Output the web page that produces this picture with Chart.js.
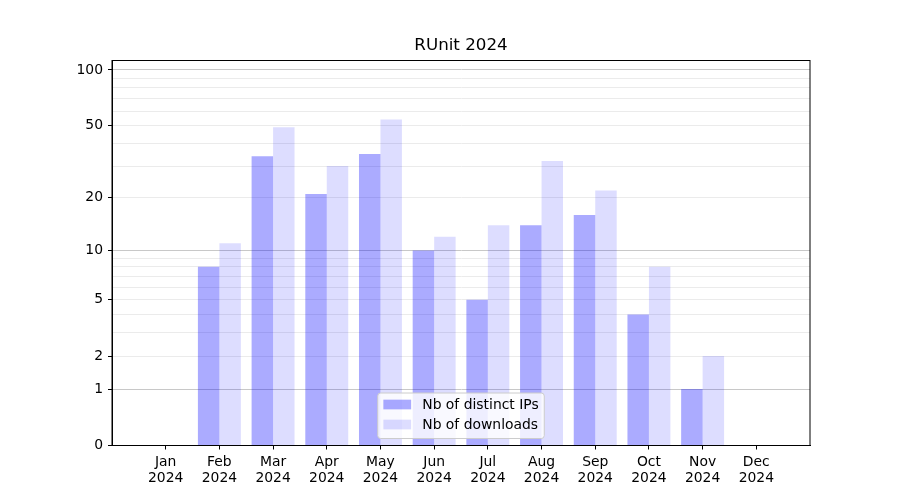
<!DOCTYPE html>
<html>
<head>
<meta charset="utf-8">
<title>RUnit 2024</title>
<script src="https://cdn.jsdelivr.net/npm/chart.js@4.4.1/dist/chart.umd.min.js"></script>
<style>
  html, body { margin: 0; padding: 0; background: #fff; }
  #wrap { width: 900px; height: 500px; }
</style>
</head>
<body>
<div id="wrap"><canvas id="runit-chart"></canvas></div>
<script>
// donnees
var months = ['Jan', 'Feb', 'Mar', 'Apr', 'May', 'Jun', 'Jul', 'Aug', 'Sep', 'Oct', 'Nov', 'Dec'];
var year = '2024';
var distinctIps = [0, 8, 34, 21, 35, 10, 5, 14, 16, 4, 1, 0];
var downloads = [0, 11, 49, 30, 54, 12, 14, 32, 22, 8, 2, 0];

var yLabelTicks = [0, 1, 2, 5, 10, 20, 50, 100];
var yStrongTicks = [1, 10, 100];
var yMinorTicks = [3, 4, 6, 7, 8, 9, 30, 40, 60, 70, 80, 90];

var FONT = 'DejaVu Sans';
var chartTitle = 'RUnit ' + year;

// echelle log10(1 + x)
function fwd(v) { return Math.log10(1 + Math.max(v, 0)); }
function inv(t) { return Math.pow(10, t) - 1; }

class Log1pScale extends Chart.Scale {
  determineDataLimits() {
    var mm = this.getMinMax(true);
    this.min = this.options.min != null ? this.options.min : mm.min;
    this.max = this.options.max != null ? this.options.max : mm.max;
  }
  buildTicks() {
    var min = this.min, max = this.max;
    var ticks = [];
    yLabelTicks.forEach(function(v) {
      ticks.push({ value: v, kind: yStrongTicks.indexOf(v) >= 0 ? 'strong' : 'label' });
    });
    yMinorTicks.forEach(function(v) { ticks.push({ value: v, kind: 'minor' }); });
    ticks = ticks.filter(function(t) { return t.value >= min && t.value <= max; });
    ticks.sort(function(a, b) { return a.value - b.value; });
    return ticks;
  }
  configure() {
    super.configure();
    this._start = fwd(this.min);
    this._range = fwd(this.max) - fwd(this.min);
  }
  getLabelForValue(v) { return String(v); }
  getPixelForValue(v) {
    return this.getPixelForDecimal((fwd(v) - this._start) / this._range);
  }
  getValueForPixel(p) {
    return inv(this.getDecimalForPixel(p) * this._range + this._start);
  }
}
Log1pScale.id = 'log1p';
Log1pScale.defaults = {};
Chart.register(Log1pScale);

// cadre complet + titre centre sur la zone du graphique
var framePlugin = {
  id: 'frame',
  afterDraw: function(chart) {
    var a = chart.chartArea, c = chart.ctx;
    c.save();
    c.strokeStyle = '#000';
    c.lineWidth = 1;
    c.strokeRect(a.left, a.top, a.right - a.left, a.bottom - a.top);
    c.font = '16.7px "' + FONT + '"';
    c.fillStyle = '#000';
    c.textAlign = 'center';
    c.textBaseline = 'middle';
    c.fillText(chartTitle, (a.left + a.right) / 2, 46);
    c.restore();
  }
};

// legende dans la zone du graphique, en bas au centre
var legendPlugin = {
  id: 'innerLegend',
  afterDatasetsDraw: function(chart) {
    var c = chart.ctx, a = chart.chartArea;
    var fs = 13.9, pad = 5.6, handleLen = 27.8, handleH = 9.7, textPad = 11.1, rowH = 20;
    c.save();
    c.font = fs + 'px "' + FONT + '"';
    var sets = chart.data.datasets;
    var tw = 0;
    sets.forEach(function(d) { tw = Math.max(tw, c.measureText(d.label).width); });
    var w = pad * 2 + handleLen + textPad + tw;
    var h = 45.5;
    var x = (a.left + a.right) / 2 - w / 2;
    var y = a.bottom - 7 - h;
    c.beginPath();
    c.roundRect(x, y, w, h, 3);
    c.fillStyle = 'rgba(255,255,255,0.8)';
    c.fill();
    c.strokeStyle = '#cccccc';
    c.lineWidth = 1;
    c.stroke();
    c.textBaseline = 'middle';
    c.textAlign = 'left';
    sets.forEach(function(d, i) {
      var cy = y + 11.5 + i * rowH;
      c.fillStyle = d.backgroundColor;
      c.fillRect(x + pad, cy - handleH / 2, handleLen, handleH);
      c.fillStyle = '#000';
      c.fillText(d.label, x + pad + handleLen + textPad, cy + 1);
    });
    c.restore();
  }
};

var ctx = document.getElementById('runit-chart').getContext('2d');

var chart = new Chart(ctx, {
  type: 'bar',
  data: {
    datasets: [
      {
        label: 'Nb of distinct IPs',
        data: distinctIps.map(function(v, i) { return { x: i, y: v }; }),
        backgroundColor: 'rgba(0, 0, 255, 0.33)',
        borderWidth: 0
      },
      {
        label: 'Nb of downloads',
        data: downloads.map(function(v, i) { return { x: i, y: v }; }),
        backgroundColor: 'rgba(0, 0, 255, 0.133)',
        borderWidth: 0
      }
    ]
  },
  plugins: [framePlugin, legendPlugin],
  options: {
    responsive: true,
    maintainAspectRatio: false,
    animation: false,
    devicePixelRatio: 1,
    layout: { padding: { left: 0, right: 90, top: 60.5, bottom: 0 } },
    datasets: {
      bar: { categoryPercentage: 0.8, barPercentage: 1.0, grouped: true }
    },
    plugins: {
      legend: { display: false },
      tooltip: { enabled: false },
      title: { display: false }
    },
    scales: {
      x: {
        type: 'linear',
        min: -1,
        max: 12,
        offset: false,
        afterBuildTicks: function(scale) {
          scale.ticks = months.map(function(m, i) { return { value: i }; });
        },
        afterFit: function(scale) { scale.height = 54.5; },
        ticks: {
          autoSkip: false,
          maxRotation: 0,
          padding: 5,
          color: '#000',
          font: { family: FONT, size: 13.9, lineHeight: 1.15 },
          callback: function(v) { return [months[v], year]; }
        },
        grid: {
          offset: false,
          drawOnChartArea: false,
          drawTicks: true,
          tickLength: 4,
          tickColor: '#000',
          tickWidth: 1
        },
        border: { color: '#000', width: 1 }
      },
      y: {
        type: 'log1p',
        min: 0,
        max: 112.5,
        afterFit: function(scale) { scale.width = 112; },
        ticks: {
          autoSkip: false,
          padding: 5,
          color: '#000',
          font: { family: FONT, size: 13.9 },
          callback: function(v, i, ticks) { return ticks[i].kind === 'minor' ? '' : String(v); }
        },
        grid: {
          drawOnChartArea: true,
          drawTicks: true,
          tickLength: 4,
          lineWidth: 1,
          color: function(c) {
            if (!c.tick || c.tick.value === 0) return 'rgba(0,0,0,0)';
            return c.tick.kind === 'strong' ? '#c8c8c8' : '#ebebeb';
          },
          tickColor: function(c) {
            return c.tick && c.tick.kind !== 'minor' ? '#000' : 'rgba(0,0,0,0)';
          }
        },
        border: { color: '#000', width: 1 }
      }
    }
  }
});
</script>
</body>
</html>
